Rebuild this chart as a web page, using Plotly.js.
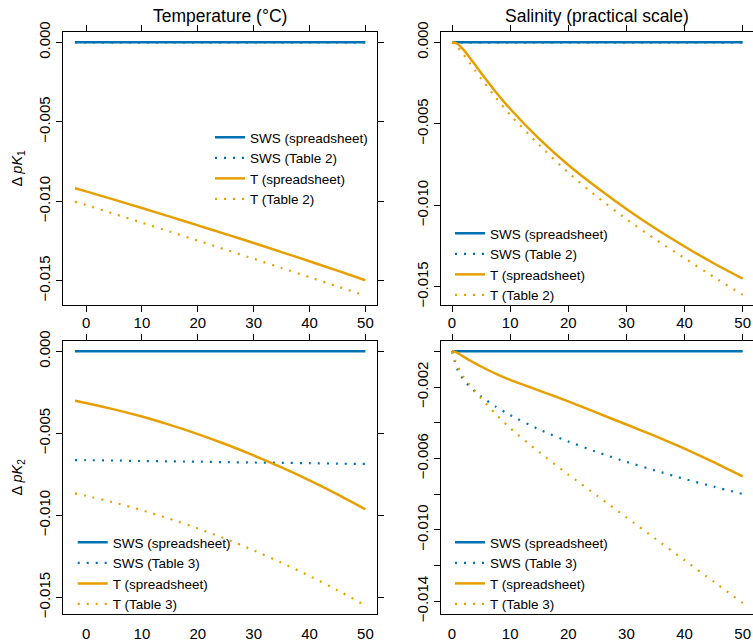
<!DOCTYPE html>
<html><head><meta charset="utf-8">
<script src="https://cdn.plot.ly/plotly-3.0.1.min.js"></script>
<style>html,body{margin:0;padding:0;background:#fff}#chart{width:753px;height:642px}</style>
</head><body><div id="chart"></div>
<script>
// ---------- data ----------
const temperature = [-2, 0, 5, 10, 15, 20, 25, 30, 35, 40, 45, 50];
const salinity = [0, 0.5, 1, 2, 3, 4, 5, 7.5, 10, 15, 20, 25, 30, 35, 40, 45, 50];
const tempTicks = [0, 10, 20, 30, 40, 50];
const salTicks = [0, 10, 20, 30, 40, 50];

// pK1 vs temperature
const pk1T_swsSheet = [0,0,0,0,0,0,0,0,0,0,0,0];
const pk1T_swsTable = [0,0,0,0,0,0,0,0,0,0,0,0];
const pk1T_tSheet = [-0.00918,-0.00938,-0.00990,-0.01043,-0.01097,-0.01152,-0.01207,-0.01263,-0.01320,-0.01378,-0.01437,-0.01497];
const pk1T_tTable = [-0.01003,-0.01024,-0.01079,-0.01135,-0.01191,-0.01248,-0.01305,-0.01362,-0.01420,-0.01478,-0.01536,-0.01594];

// pK1 vs salinity
const pk1S_swsSheet = [0,0,0,0,0,0,0,0,0,0,0,0,0,0,0,0,0];
const pk1S_swsTable = [0,0,0,0,0,0,0,0,0,0,0,0,0,0,0,0,0];
const pk1S_tSheet = [0,-0.00003,-0.00012,-0.00047,-0.00092,-0.0014,-0.00188,-0.00303,-0.00408,-0.00593,-0.00753,-0.00893,-0.01023,-0.01143,-0.01253,-0.01356,-0.01451];
const pk1S_tTable = [0,-0.0001,-0.0003,-0.00075,-0.00125,-0.00175,-0.00223,-0.00338,-0.00445,-0.0063,-0.008,-0.0095,-0.01085,-0.0121,-0.01325,-0.0144,-0.0155];

// pK2 vs temperature
const pk2T_swsSheet = [0,0,0,0,0,0,0,0,0,0,0,0];
const pk2T_swsTable = [-0.00663,-0.00664,-0.00666,-0.00669,-0.00671,-0.00673,-0.00676,-0.00678,-0.00680,-0.00682,-0.00685,-0.00687];
const pk2T_tSheet = [-0.00301,-0.00315,-0.00354,-0.00398,-0.00449,-0.00505,-0.00567,-0.00635,-0.00708,-0.00787,-0.00872,-0.00963];
const pk2T_tTable = [-0.00866,-0.00881,-0.00922,-0.00969,-0.01022,-0.01080,-0.01144,-0.01214,-0.01289,-0.01370,-0.01457,-0.01550];

// pK2 vs salinity
const pk2S_swsSheet = [0,0,0,0,0,0,0,0,0,0,0,0,0,0,0,0,0];
const pk2S_swsTable = [0,-0.0006,-0.00105,-0.0016,-0.00196,-0.00226,-0.00253,-0.0031,-0.00357,-0.00438,-0.00505,-0.00565,-0.00619,-0.00668,-0.00715,-0.00758,-0.00799];
const pk2S_tSheet = [0,-0.00003,-0.0001,-0.0003,-0.0005,-0.00068,-0.00085,-0.00125,-0.0016,-0.0022,-0.0028,-0.00345,-0.0041,-0.00475,-0.00545,-0.0062,-0.0070];
const pk2S_tTable = [0,-0.0005,-0.00085,-0.00145,-0.00185,-0.00225,-0.00263,-0.0035,-0.0043,-0.00565,-0.0069,-0.0081,-0.0093,-0.0105,-0.0117,-0.0129,-0.0141];

const namesK1 = ['SWS (spreadsheet)', 'SWS (Table 2)', 'T (spreadsheet)', 'T (Table 2)'];
const namesK2 = ['SWS (spreadsheet)', 'SWS (Table 3)', 'T (spreadsheet)', 'T (Table 3)'];

// ---------- styling ----------
const BLUE = '#0072B2', ORANGE = '#E69F00';
const FONT = 'Liberation Sans, Arial, Helvetica, sans-serif';
const W = 753, H = 642;
const px = v => v / W;
const py = v => 1 - v / H;

function line(x, y, name, color, dotted, xa, ya, leg) {
  return {x: x, y: y, name: name, type: 'scatter', mode: 'lines', xaxis: xa, yaxis: ya, legend: leg,
    hoverinfo: 'skip',
    line: {color: color, width: dotted ? 2.2 : 2.5, dash: dotted ? '2px,7px' : 'solid',
      shape: 'spline', smoothing: 0.6}};
}
// xaTop: the overlaid top axis of the panel (same range); last trace is drawn through it
function panel(x, s1, s2, t1, t2, names, xa, xaTop, ya, leg) {
  return [
    line(x, s1, names[0], BLUE, false, xa, ya, leg),
    line(x, s2, names[1], BLUE, true, xa, ya, leg),
    line(x, t1, names[2], ORANGE, false, xa, ya, leg),
    line(x, t2, names[3], ORANGE, true, xaTop, ya, leg)
  ];
}

const data = [].concat(
  panel(temperature, pk1T_swsSheet, pk1T_swsTable, pk1T_tSheet, pk1T_tTable, namesK1, 'x', 'x', 'y', 'legend'),
  panel(salinity, pk1S_swsSheet, pk1S_swsTable, pk1S_tSheet, pk1S_tTable, namesK1, 'x2', 'x2', 'y2', 'legend2'),
  panel(temperature, pk2T_swsSheet, pk2T_swsTable, pk2T_tSheet, pk2T_tTable, namesK2, 'x3', 'x5', 'y3', 'legend3'),
  panel(salinity, pk2S_swsSheet, pk2S_swsTable, pk2S_tSheet, pk2S_tTable, namesK2, 'x4', 'x6', 'y4', 'legend4')
);

const common = {showgrid: false, zeroline: false, showline: true, linecolor: '#000', linewidth: 1,
  ticks: 'outside', ticklen: 6, tickcolor: '#000', tickwidth: 1,
  tickfont: {family: FONT, size: 15, color: '#000'}, fixedrange: true, automargin: false};

const xdomL = [px(63.3), px(377)], xdomR = [px(440.6), 1];
const ydomT = [py(305), py(32.3)], ydomB = [py(614), py(340.7)];
const xrangeT = [-4.08, 52.08], xrangeS = [-1.96, 51.77];

const legendBase = {xanchor: 'left', yanchor: 'top', bgcolor: 'rgba(0,0,0,0)', borderwidth: 0,
  font: {family: FONT, size: 13.5, color: '#000'}, itemwidth: 30, tracegroupgap: 0, traceorder: 'normal'};

const m1 = '\u2212';
const minorTicks = {tickvals: [0, -0.004, -0.008, -0.012], ticks: 'outside', ticklen: 6, tickcolor: '#000', tickwidth: 1, showgrid: false};
const layout = {
  width: W, height: H, margin: {l: 0, r: 0, t: 0, b: 0}, paper_bgcolor: '#fff', plot_bgcolor: '#fff',
  font: {family: FONT, color: '#000'}, hovermode: false,
  xaxis: Object.assign({}, common, {domain: xdomL, range: xrangeT, tickvals: tempTicks, showticklabels: false, mirror: 'allticks', anchor: 'y'}),
  xaxis2: Object.assign({}, common, {domain: xdomR, range: xrangeS, tickvals: salTicks, showticklabels: false, mirror: 'allticks', anchor: 'y2'}),
  xaxis3: Object.assign({}, common, {domain: xdomL, range: xrangeT, tickvals: tempTicks, tickcolor: 'rgba(0,0,0,0)', mirror: true, anchor: 'y3'}),
  xaxis4: Object.assign({}, common, {domain: xdomR, range: xrangeS, tickvals: salTicks, tickcolor: 'rgba(0,0,0,0)', mirror: true, anchor: 'y4'}),
  xaxis5: Object.assign({}, common, {range: xrangeT, tickvals: tempTicks, showline: false, side: 'top', overlaying: 'x3', anchor: 'y3'}),
  xaxis6: Object.assign({}, common, {range: xrangeS, tickvals: salTicks, showline: false, side: 'top', overlaying: 'x4', anchor: 'y4'}),
  yaxis: Object.assign({}, common, {domain: ydomT, range: [-0.01653, 0.00063], tickvals: [0, -0.005, -0.01, -0.015], tickformat: '.3f', tickangle: -90, mirror: 'allticks', anchor: 'x'}),
  yaxis2: Object.assign({}, common, {domain: ydomT, range: [-0.016123, 0.000614], tickvals: [0, -0.005, -0.01, -0.015], tickformat: '.3f', tickangle: -90, mirror: 'allticks', anchor: 'x2'}),
  yaxis3: Object.assign({}, common, {domain: ydomB, range: [-0.016018, 0.000646], tickvals: [0, -0.005, -0.01, -0.015], tickformat: '.3f', tickangle: -90, mirror: 'allticks', anchor: 'x3'}),
  yaxis4: Object.assign({}, common, {domain: ydomB, range: [-0.014711, 0.000594],
    tickvals: [-0.002, -0.006, -0.010, -0.014],
    ticktext: [m1 + '0.002', m1 + '0.006', m1 + '0.010', m1 + '0.014'],
    minor: minorTicks,
    tickangle: -90, mirror: 'allticks', anchor: 'x4'}),
  legend: Object.assign({}, legendBase, {x: px(210), y: py(122)}),
  legend2: Object.assign({}, legendBase, {x: px(450), y: py(218)}),
  legend3: Object.assign({}, legendBase, {x: px(72.7), y: py(527)}),
  legend4: Object.assign({}, legendBase, {x: px(450), y: py(527)}),
  annotations: [
    {text: 'Temperature (\u00B0C)', xref: 'paper', yref: 'paper', x: px(220), y: py(16), xanchor: 'center', yanchor: 'middle', showarrow: false, font: {family: FONT, size: 17.5, color: '#000'}},
    {text: 'Salinity (practical scale)', xref: 'paper', yref: 'paper', x: px(597), y: py(16), xanchor: 'center', yanchor: 'middle', showarrow: false, font: {family: FONT, size: 17.5, color: '#000'}},
    {text: '\u0394 <i>pK</i><sub>1</sub>', xref: 'paper', yref: 'paper', x: px(18), y: py(168.6), xanchor: 'center', yanchor: 'middle', textangle: -90, showarrow: false, font: {family: FONT, size: 14.5, color: '#000'}},
    {text: '\u0394 <i>pK</i><sub>2</sub>', xref: 'paper', yref: 'paper', x: px(18), y: py(477.4), xanchor: 'center', yanchor: 'middle', textangle: -90, showarrow: false, font: {family: FONT, size: 14.5, color: '#000'}}
  ]
};

Plotly.newPlot('chart', data, layout, {staticPlot: true, displayModeBar: false});
</script>
</body></html>
